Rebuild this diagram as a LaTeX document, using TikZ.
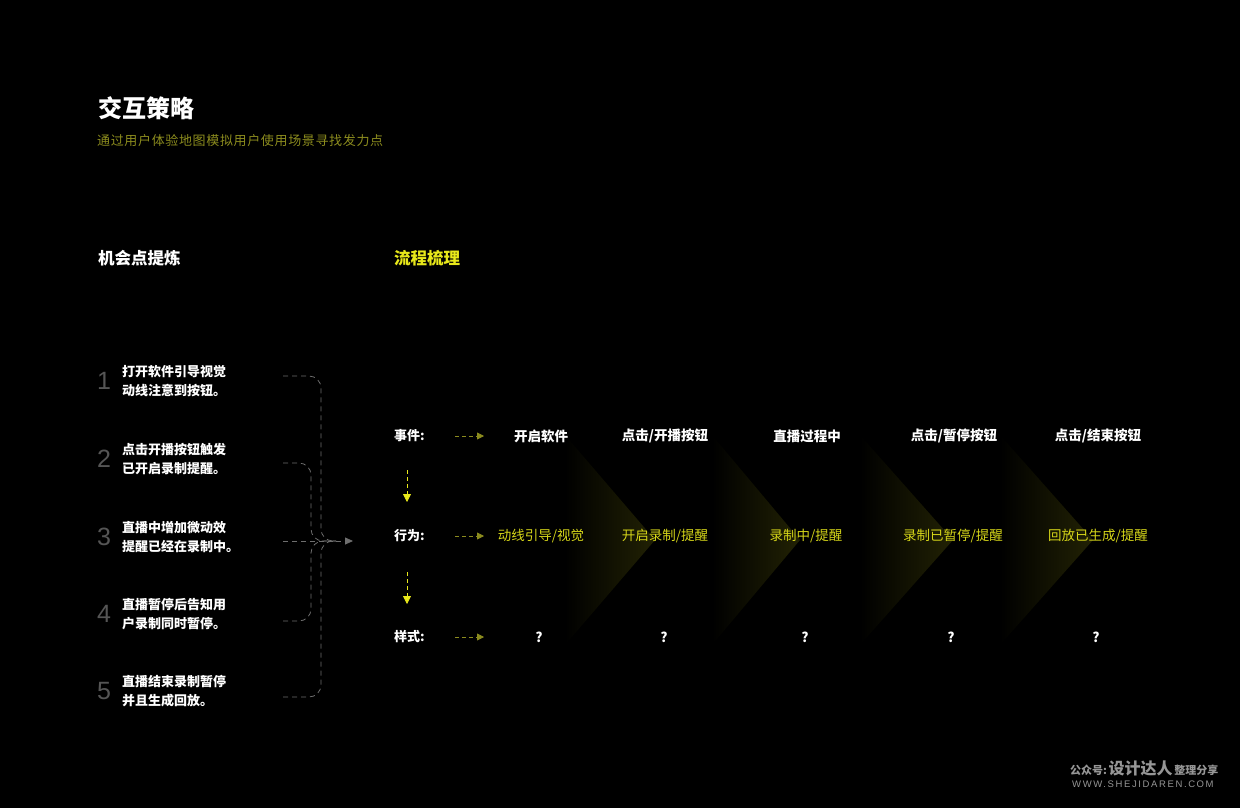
\documentclass[tikz,border=0pt]{standalone}
\usepackage{fontspec}
\setmainfont{Noto Sans CJK SC}
\newfontfamily\widecjk{Noto Sans CJK SC}[LetterSpace=5]
\newfontfamily\numfont{Liberation Sans}
\newfontfamily\urlfont{Liberation Sans}[LetterSpace=17]
\usetikzlibrary{positioning,arrows.meta}
\definecolor{bgBlack}{RGB}{0,0,0}
\definecolor{dOlive}{RGB}{140,140,30}
\definecolor{dYellow}{RGB}{232,232,26}
\definecolor{actYellow}{RGB}{214,214,25}
\definecolor{dGrey}{RGB}{110,110,110}
\definecolor{numGrey}{RGB}{85,85,85}
\definecolor{footGrey}{RGB}{150,150,150}
\definecolor{chevFill}{RGB}{34,34,4}
\tikzset{
  maintitle/.style={text=white, anchor=west, inner sep=0pt,
                    font=\bfseries\fontsize{24}{28}\selectfont},
  subtitle/.style={text=dOlive, anchor=west, inner sep=0pt,
                   font=\widecjk\fontsize{13}{16}\selectfont},
  head/.style={text=white, anchor=west, inner sep=0pt,
               font=\bfseries\fontsize{16.5}{20}\selectfont},
  num/.style={text=numGrey, inner sep=0pt, font=\numfont\fontsize{25}{28}\selectfont},
  item/.style={text=white, anchor=west, align=left, inner sep=0pt,
               font=\bfseries\fontsize{13}{19.5}\selectfont},
  rowlbl/.style={text=white, anchor=west, inner sep=0pt,
                 font=\bfseries\fontsize{13}{16}\selectfont},
  evt/.style={text=white, inner sep=0pt, font=\bfseries\fontsize{13.5}{16}\selectfont},
  act/.style={text=actYellow, inner sep=0pt, font=\fontsize{13.5}{16}\selectfont},
  brace/.style={draw=dGrey, thick, dashed, dash pattern=on 5pt off 4pt,
                rounded corners=12pt},
  rowarrow/.style={draw=dOlive, thick, dash pattern=on 4pt off 3pt,
                   -{Triangle[length=7pt,width=7pt]}},
  downarrow/.style={draw=dYellow, thick, dash pattern=on 4pt off 3pt,
                    -{Triangle[length=8pt,width=8pt]}},
}

\begin{document}
\begin{tikzpicture}[x=1pt, y=-1pt]
  \fill[bgBlack] (0,0) rectangle (1240,808);
  \useasboundingbox (0,0) rectangle (1240,808);

  % heading block
  \node[maintitle] (title) at (98,108) {交互策略};
  \node[subtitle] (sub) at (97,141) {通过用户体验地图模拟用户使用场景寻找发力点};
  \node[head] (oppHead) at (98,258) {机会点提炼};
  \node[head, text=dYellow] (flowHead) at (394,258) {流程梳理};

  % chevrons behind the flow
  \foreach \l/\a in {565/655, 712/800, 860/953, 1000/1093}
    \shade[left color=bgBlack, right color=chevFill] (\l,435) -- (\a,540) -- (\l,645) -- cycle;

  % opportunity list
  \foreach \i/\y/\txt in {1/381/{打开软件引导视觉\\动线注意到按钮。},
                          2/459/{点击开播按钮触发\\已开启录制提醒。},
                          3/537/{直播中增加微动效\\提醒已经在录制中。},
                          4/614/{直播暂停后告知用\\户录制同时暂停。},
                          5/691/{直播结束录制暂停\\并且生成回放。}} {
    \node[num] (n\i) at (104,\y) {\i};
    \node[item] (t\i) at (122,\y) {\txt};
  }
  \coordinate (s1) at (283,376);
  \coordinate (s2) at (283,463);
  \coordinate (s3) at (283,541);
  \coordinate (s4) at (283,621);
  \coordinate (s5) at (283,697);
  \coordinate (merge) at (336,541);
  \coordinate (mergeOut) at (353,541);
  \draw[brace] (s1) -| (321,541) -- (merge);
  \draw[brace] (s2) -| (311,541) -- (merge);
  \draw[brace] (s3) -- (merge);
  \draw[brace] (s4) -| (311,541) -- (merge);
  \draw[brace] (s5) -| (321,541) -- (merge);
  \draw[brace, rounded corners=0pt, -{Triangle[length=8pt,width=7pt]}] (merge) -- (mergeOut);

  % flow rows
  \node[rowlbl] (evLbl) at (394,436) {事件:};
  \node[rowlbl] (acLbl) at (394,536) {行为:};
  \node[rowlbl] (stLbl) at (394,637) {样式:};
  \foreach \r/\y in {ev/436, ac/536, st/637} {
    \coordinate (\r A) at (455,\y);
    \coordinate (\r B) at (484,\y);
    \draw[rowarrow] (\r A) -- (\r B);
  }
  \coordinate (d1A) at (407,470);
  \coordinate (d1B) at (407,502);
  \coordinate (d2A) at (407,572);
  \coordinate (d2B) at (407,604);
  \draw[downarrow] (d1A) -- (d1B);
  \draw[downarrow] (d2A) -- (d2B);

  \node[evt] (e1) at (541,436) {开启软件};
  \node[evt] (e2) at (665,436) {点击/开播按钮};
  \node[evt] (e3) at (807,436) {直播过程中};
  \node[evt] (e4) at (954,436) {点击/暂停按钮};
  \node[evt] (e5) at (1098,436) {点击/结束按钮};

  \node[act] (a1) at (541,536) {动线引导/视觉};
  \node[act] (a2) at (665,536) {开启录制/提醒};
  \node[act] (a3) at (806,536) {录制中/提醒};
  \node[act] (a4) at (953,536) {录制已暂停/提醒};
  \node[act] (a5) at (1098,536) {回放已生成/提醒};

  \foreach \i/\x in {1/539, 2/664, 3/805, 4/951, 5/1096}
    \node[evt] (q\i) at (\x,637) {?};

  % footer mark
  \node[text=footGrey, anchor=west, inner sep=0pt] (mark) at (1070,768)
    {{\bfseries\fontsize{11}{13}\selectfont 公众号:}\,{\bfseries\fontsize{16}{18}\selectfont 设计达人}\,{\bfseries\fontsize{11}{13}\selectfont 整理分享}};
  \node[text=footGrey, anchor=west, inner sep=0pt, font=\urlfont\fontsize{9.5}{11}\selectfont]
    (url) at (1072,784) {WWW.SHEJIDAREN.COM};
\end{tikzpicture}
\end{document}
